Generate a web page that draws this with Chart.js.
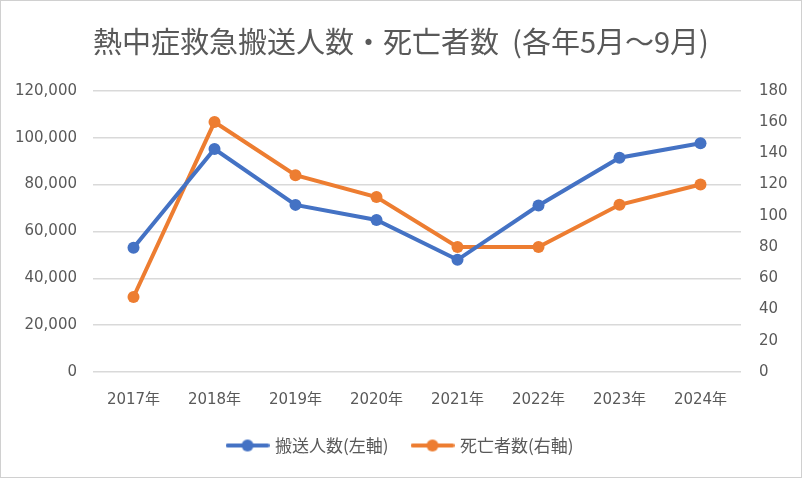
<!DOCTYPE html>
<html>
<head>
<meta charset="utf-8">
<script src="https://cdn.jsdelivr.net/npm/chart.js@4.4.1/dist/chart.umd.min.js"></script>
<style>
  html, body { margin: 0; padding: 0; background: #fff; }
  canvas { display: block; }
</style>
</head>
<body>
<canvas id="heatChart" width="802" height="478"></canvas>
<script>
// data
const years = ['2017年', '2018年', '2019年', '2020年', '2021年', '2022年', '2023年', '2024年'];
const transported = [52984, 95137, 71317, 64869, 47877, 71029, 91467, 97578];
const deaths = [48, 160, 126, 112, 80, 80, 107, 120];

const titleText = '熱中症救急搬送人数・死亡者数  (各年5月～9月)';
const transportedLabel = '搬送人数(左軸)';
const deathsLabel = '死亡者数(右軸)';

const blue = '#4472C4';
const orange = '#ED7D31';
const textGray = '#595959';
const gridGray = '#D9D9D9';
const cjkFont = "'Noto Sans CJK JP', 'Noto Sans', sans-serif";
const tickFont = "'DejaVu Sans', 'Noto Sans CJK JP', sans-serif";

// legend marker: short line with a dot in the middle
function legendMarker(color) {
    const c = document.createElement('canvas');
    c.width = 44;
    c.height = 14;
    const g = c.getContext('2d');
    g.strokeStyle = color;
    g.lineWidth = 4;
    g.lineCap = 'round';
    g.beginPath();
    g.moveTo(2, 7);
    g.lineTo(42, 7);
    g.stroke();
    g.fillStyle = color;
    g.beginPath();
    g.arc(22, 7, 6, 0, Math.PI * 2);
    g.fill();
    return c;
}

// white background + thin frame like the spreadsheet chart
const framePlugin = {
    id: 'frame',
    beforeDraw(chart) {
        const ctx = chart.ctx;
        ctx.save();
        ctx.fillStyle = '#fff';
        ctx.fillRect(0, 0, chart.width, chart.height);
        ctx.strokeStyle = '#D0D0D0';
        ctx.lineWidth = 1;
        ctx.strokeRect(0.5, 0.5, chart.width - 1, chart.height - 1);
        ctx.restore();
    }
};

const ctx = document.getElementById('heatChart');

new Chart(ctx, {
    type: 'line',
    data: {
        labels: years,
        datasets: [
            {
                label: transportedLabel,
                data: transported,
                yAxisID: 'y',
                borderColor: blue,
                backgroundColor: blue,
                borderWidth: 4,
                pointRadius: 6,
                pointHoverRadius: 6,
                pointBorderWidth: 0,
                tension: 0
            },
            {
                label: deathsLabel,
                data: deaths,
                yAxisID: 'y1',
                borderColor: orange,
                backgroundColor: orange,
                borderWidth: 4,
                pointRadius: 6,
                pointHoverRadius: 6,
                pointBorderWidth: 0,
                tension: 0
            }
        ]
    },
    options: {
        responsive: false,
        animation: false,
        layout: {
            padding: { top: 0, bottom: 14, left: 0, right: 0 }
        },
        plugins: {
            title: {
                display: true,
                text: titleText,
                color: textGray,
                font: { family: cjkFont, size: 29, weight: 'normal' },
                padding: { top: 25, bottom: 31 }
            },
            legend: {
                position: 'bottom',
                labels: {
                    color: textGray,
                    font: { family: cjkFont, size: 17 },
                    usePointStyle: true,
                    pointStyleWidth: 38,
                    padding: 25,
                    generateLabels(chart) {
                        return chart.data.datasets.map((ds, i) => ({
                            text: ds.label,
                            fillStyle: ds.borderColor,
                            strokeStyle: ds.borderColor,
                            fontColor: textGray,
                            pointStyle: legendMarker(ds.borderColor),
                            lineWidth: 0,
                            hidden: false,
                            datasetIndex: i
                        }));
                    }
                }
            },
            tooltip: { enabled: false }
        },
        scales: {
            x: {
                offset: true,
                grid: { display: false, drawTicks: false },
                border: { display: false },
                ticks: {
                    color: textGray,
                    font: { family: tickFont, size: 15 },
                    padding: 19,
                    maxRotation: 0
                },
                afterFit(scale) { scale.height = 40; }
            },
            y: {
                position: 'left',
                min: 0,
                max: 120000,
                grid: { color: gridGray, lineWidth: 1.5, drawTicks: false },
                border: { display: false },
                ticks: {
                    stepSize: 20000,
                    color: textGray,
                    font: { family: tickFont, size: 15 },
                    padding: 16,
                    callback: v => v.toLocaleString('en-US')
                },
                afterFit(scale) { scale.width = 93; }
            },
            y1: {
                position: 'right',
                min: 0,
                max: 180,
                grid: { display: false, drawTicks: false },
                border: { display: false },
                ticks: {
                    stepSize: 20,
                    color: textGray,
                    font: { family: tickFont, size: 15 },
                    padding: 18
                },
                afterFit(scale) { scale.width = 61; }
            }
        }
    },
    plugins: [framePlugin]
});
</script>
</body>
</html>
